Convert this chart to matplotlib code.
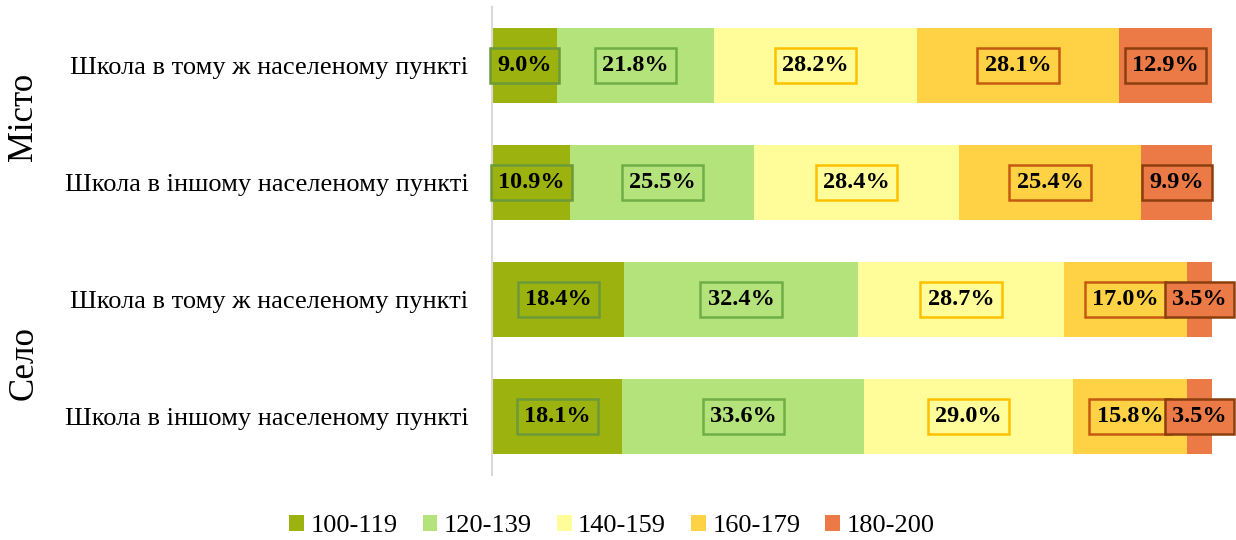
import numpy as np
import matplotlib
matplotlib.use("Agg")
import matplotlib.pyplot as plt
from matplotlib.transforms import blended_transform_factory

plt.rcParams['font.family'] = ['Liberation Serif', 'DejaVu Serif']

# Data (percent of pupils per score band)
row_labels = ["Школа в тому ж населеному пункті",
              "Школа в іншому населеному пункті",
              "Школа в тому ж населеному пункті",
              "Школа в іншому населеному пункті"]
group_labels = ["Місто", "Село"]
group_pos = [0.44, 2.54]
bands = ["100-119", "120-139", "140-159", "160-179", "180-200"]
v_100_119 = [9.0, 10.9, 18.4, 18.1]
v_120_139 = [21.8, 25.5, 32.4, 33.6]
v_140_159 = [28.2, 28.4, 28.7, 29.0]
v_160_179 = [28.1, 25.4, 17.0, 15.8]
v_180_200 = [12.9, 9.9, 3.5, 3.5]

series = [v_100_119, v_120_139, v_140_159, v_160_179, v_180_200]
fills = ["#9BB20F", "#B4E27B", "#FFFD99", "#FFD246", "#EB7A46"]
edges = ["#6C9A3A", "#70AD47", "#FFC000", "#C55A11", "#8B3F0E"]

fig = plt.figure(figsize=(12.36, 5.4), dpi=100)
ax = fig.add_axes([492 / 1236, 1 - 475 / 540, 720 / 1236, 468 / 540])

y = np.arange(len(row_labels))
left = np.zeros(len(row_labels))
for vals, fc, ec, name in zip(series, fills, edges, bands):
    vals = np.array(vals)
    ax.barh(y, vals, left=left, height=0.64, color=fc, label=name, zorder=2)
    for yi, (l, v) in enumerate(zip(left, vals)):
        ax.text(l + v / 2, yi, f"{v:.1f}%", ha="center", va="center",
                fontsize=17.5, fontweight="bold", color="black", zorder=5,
                bbox=dict(boxstyle="square,pad=0.3", fc=fc, ec=ec, lw=1.8))
    left += vals

ax.set_xlim(0, 100)
ax.set_ylim(3.5, -0.5)
ax.set_yticks(y)
ax.set_yticklabels(row_labels, fontsize=19)
ax.tick_params(axis="y", length=0, pad=17)
ax.set_xticks([])
for s in ["top", "right", "bottom"]:
    ax.spines[s].set_visible(False)
ax.spines["left"].set_color("#D9D9D9")
ax.spines["left"].set_linewidth(1.5)

# group labels on the far left
trans = blended_transform_factory(fig.transFigure, ax.transData)
for g, gy in zip(group_labels, group_pos):
    ax.text(24 / 1236, gy, g, transform=trans, rotation=90,
            ha="center", va="center", fontsize=25)

handles, labels = ax.get_legend_handles_labels()
fig.legend(handles, labels, loc="center", bbox_to_anchor=(612 / 1236, 1 - 526 / 540),
           ncol=5, frameon=False, fontsize=19, handlelength=0.55, handleheight=0.55,
           handletextpad=0.25, columnspacing=0.95)

fig.savefig("out.png", dpi=100)
